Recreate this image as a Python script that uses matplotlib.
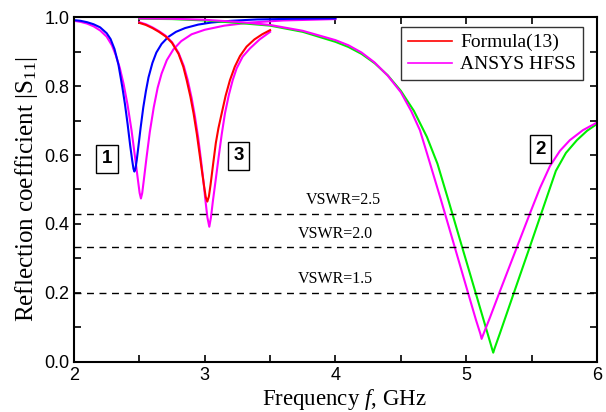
import matplotlib
matplotlib.use("Agg")
import matplotlib.pyplot as plt
from matplotlib.ticker import MultipleLocator, FormatStrFormatter

plt.rcParams["mathtext.fontset"] = "custom"
plt.rcParams["mathtext.rm"] = "Liberation Serif"
plt.rcParams["mathtext.it"] = "Liberation Serif:italic"

# ---- data (frequency in GHz, |S11|) ----
# resonator 1, formula (13)
f1_calc = [2.00, 2.05, 2.10, 2.15, 2.20, 2.25, 2.28, 2.31, 2.34, 2.37, 2.39, 2.41,
           2.43, 2.445, 2.455, 2.462, 2.47, 2.48, 2.495, 2.51, 2.53, 2.55, 2.57,
           2.60, 2.63, 2.67, 2.72, 2.78, 2.85, 2.95, 3.05, 3.2, 3.4, 3.7, 4.0]
s1_calc = [0.991, 0.989, 0.985, 0.979, 0.970, 0.953, 0.936, 0.907, 0.862, 0.796, 0.747, 0.690,
           0.627, 0.585, 0.560, 0.552, 0.560, 0.585, 0.632, 0.680, 0.738, 0.785, 0.825,
           0.867, 0.897, 0.922, 0.942, 0.957, 0.968, 0.978, 0.984, 0.989, 0.993, 0.995, 0.996]
# resonator 1, HFSS
f1_hfss = [2.00, 2.05, 2.10, 2.15, 2.20, 2.25, 2.29, 2.32, 2.35, 2.38, 2.41, 2.44,
           2.47, 2.49, 2.502, 2.512, 2.522, 2.535, 2.555, 2.58, 2.61, 2.64, 2.67,
           2.71, 2.76, 2.82, 2.90, 3.0, 3.15, 3.35, 3.6, 4.0]
s1_hfss = [0.989, 0.986, 0.981, 0.973, 0.961, 0.943, 0.918, 0.889, 0.853, 0.805, 0.745, 0.672,
           0.585, 0.525, 0.49, 0.474, 0.49, 0.53, 0.593, 0.667, 0.738, 0.795, 0.836,
           0.875, 0.906, 0.93, 0.95, 0.963, 0.975, 0.984, 0.99, 0.994]

# resonator 3, formula (13)
f3_calc = [2.50, 2.55, 2.60, 2.65, 2.70, 2.75, 2.80, 2.836, 2.862, 2.89, 2.915, 2.94,
           2.96, 2.98, 2.995, 3.008, 3.02, 3.032, 3.045, 3.065, 3.085, 3.105, 3.13,
           3.16, 3.193, 3.23, 3.27, 3.32, 3.38, 3.44, 3.5]
s3_calc = [0.983, 0.977, 0.968, 0.957, 0.944, 0.925, 0.893, 0.856, 0.817, 0.77, 0.72, 0.66,
           0.605, 0.55, 0.51, 0.478, 0.465, 0.48, 0.515, 0.576, 0.635, 0.678, 0.721,
           0.772, 0.817, 0.856, 0.887, 0.914, 0.935, 0.95, 0.962]
# resonator 3, HFSS
f3_hfss = [2.50, 2.55, 2.60, 2.65, 2.70, 2.75, 2.80, 2.84, 2.87, 2.90, 2.925, 2.95,
           2.97, 2.99, 3.005, 3.02, 3.035, 3.048, 3.062, 3.084, 3.105, 3.13, 3.155,
           3.185, 3.214, 3.244, 3.29, 3.346, 3.42, 3.5]
s3_hfss = [0.985, 0.979, 0.97, 0.959, 0.946, 0.927, 0.896, 0.858, 0.817, 0.765, 0.712, 0.65,
           0.59, 0.525, 0.47, 0.42, 0.392, 0.42, 0.465, 0.528, 0.59, 0.66, 0.721,
           0.775, 0.817, 0.851, 0.885, 0.909, 0.935, 0.957]

# resonator 2, formula (13)
f2_calc = [2.5, 2.75, 3.0, 3.25, 3.5, 3.75, 4.0, 4.1, 4.2, 4.3, 4.4, 4.5, 4.6,
           4.7, 4.78, 4.863, 4.952, 5.075, 5.151, 5.189, 5.198, 5.207, 5.216,
           5.258, 5.360, 5.488, 5.610, 5.686, 5.763, 5.847, 5.924, 6.0]
s2_calc = [0.995, 0.994, 0.99, 0.983, 0.975, 0.957, 0.928, 0.913, 0.893, 0.866, 0.831, 0.786, 0.728,
           0.652, 0.575, 0.470, 0.355, 0.197, 0.099, 0.050, 0.038, 0.027, 0.038,
           0.083, 0.195, 0.335, 0.470, 0.554, 0.606, 0.643, 0.670, 0.690]
# resonator 2, HFSS
f2_hfss = [2.5, 2.75, 3.0, 3.25, 3.5, 3.75, 4.0, 4.1, 4.2, 4.3, 4.4, 4.5, 4.58,
           4.646, 4.7, 4.807, 4.914, 5.013, 5.074, 5.109, 5.118, 5.128, 5.182,
           5.258, 5.373, 5.488, 5.564, 5.641, 5.717, 5.793, 5.893, 6.0]
s2_hfss = [0.996, 0.995, 0.992, 0.986, 0.977, 0.96, 0.933, 0.918, 0.897, 0.868, 0.830, 0.782, 0.727,
           0.672, 0.605, 0.470, 0.331, 0.202, 0.123, 0.081, 0.067, 0.077, 0.129,
           0.205, 0.318, 0.431, 0.504, 0.568, 0.612, 0.643, 0.672, 0.694]

vswr_labels = ["VSWR=2.5", "VSWR=2.0", "VSWR=1.5"]
vswr_levels = [0.4286, 0.3333, 0.2]

serif = "Liberation Serif"
sans = "Liberation Sans"

fig = plt.figure(figsize=(6.06, 4.12), dpi=100)
ax = fig.add_axes([0.1221, 0.1214, 0.8629, 0.8373])

lw = 1.5
ax.plot(f1_hfss, s1_hfss, color="#ff00ff", lw=lw)
ax.plot(f1_calc, s1_calc, color="#0000ff", lw=lw)
ax.plot(f2_calc, s2_calc, color="#00ee00", lw=lw)
ax.plot(f2_hfss, s2_hfss, color="#ff00ff", lw=lw)
ax.plot(f3_hfss, s3_hfss, color="#ff00ff", lw=lw)
ax.plot(f3_calc, s3_calc, color="#ff0000", lw=lw)

for lev in vswr_levels:
    ax.axhline(lev, color="black", lw=1.0, ls=(0, (5, 4)))

ax.text(3.77, 0.47, vswr_labels[0], fontsize=11.5, family=serif, va="center")
ax.text(3.71, 0.372, vswr_labels[1], fontsize=11.5, family=serif, va="center")
ax.text(3.71, 0.24, vswr_labels[2], fontsize=11.5, family=serif, va="center")

box = dict(boxstyle="square,pad=0.3", fc="white", ec="black", lw=1.0)
ax.text(2.252, 0.589, "1", fontsize=13.5, family=sans, weight="bold",
        ha="center", va="center", bbox=box)
ax.text(3.258, 0.598, "3", fontsize=13.5, family=sans, weight="bold",
        ha="center", va="center", bbox=box)
ax.text(5.568, 0.617, "2", fontsize=13.5, family=sans, weight="bold",
        ha="center", va="center", bbox=box)

# legend with proxy lines
ax.plot([], [], color="#ff0000", lw=1.2, label="Formula(13)")
ax.plot([], [], color="#ff00ff", lw=1.2, label="ANSYS HFSS")
leg = ax.legend(loc="upper right", bbox_to_anchor=(0.973, 0.971),
                prop={"family": serif, "size": 14},
                frameon=True, fancybox=False, edgecolor="black", handlelength=2.3,
                borderpad=0.35, labelspacing=0.22, handletextpad=0.4, borderaxespad=0)
leg.get_frame().set_linewidth(1.0)

ax.set_xlim(2, 6)
ax.set_ylim(0, 1.0)
ax.xaxis.set_major_locator(MultipleLocator(1))
ax.xaxis.set_minor_locator(MultipleLocator(0.5))
ax.yaxis.set_major_locator(MultipleLocator(0.2))
ax.yaxis.set_minor_locator(MultipleLocator(0.1))
ax.yaxis.set_major_formatter(FormatStrFormatter("%.1f"))
ax.tick_params(which="both", direction="in", top=True, right=True, length=5, width=1.2)
for lab in ax.get_xticklabels() + ax.get_yticklabels():
    lab.set_family(sans)
    lab.set_fontsize(13)
for sp in ax.spines.values():
    sp.set_linewidth(1.5)

ax.set_xlabel("Frequency $\\mathit{f}$, GHz", family=serif, fontsize=16.5)
ax.xaxis.set_label_coords(0.516, -0.072)
ax.set_ylabel("Reflection coefficient |S$_{11}$|", family=serif, fontsize=18, labelpad=3)

fig.savefig("out.png", dpi=100)
